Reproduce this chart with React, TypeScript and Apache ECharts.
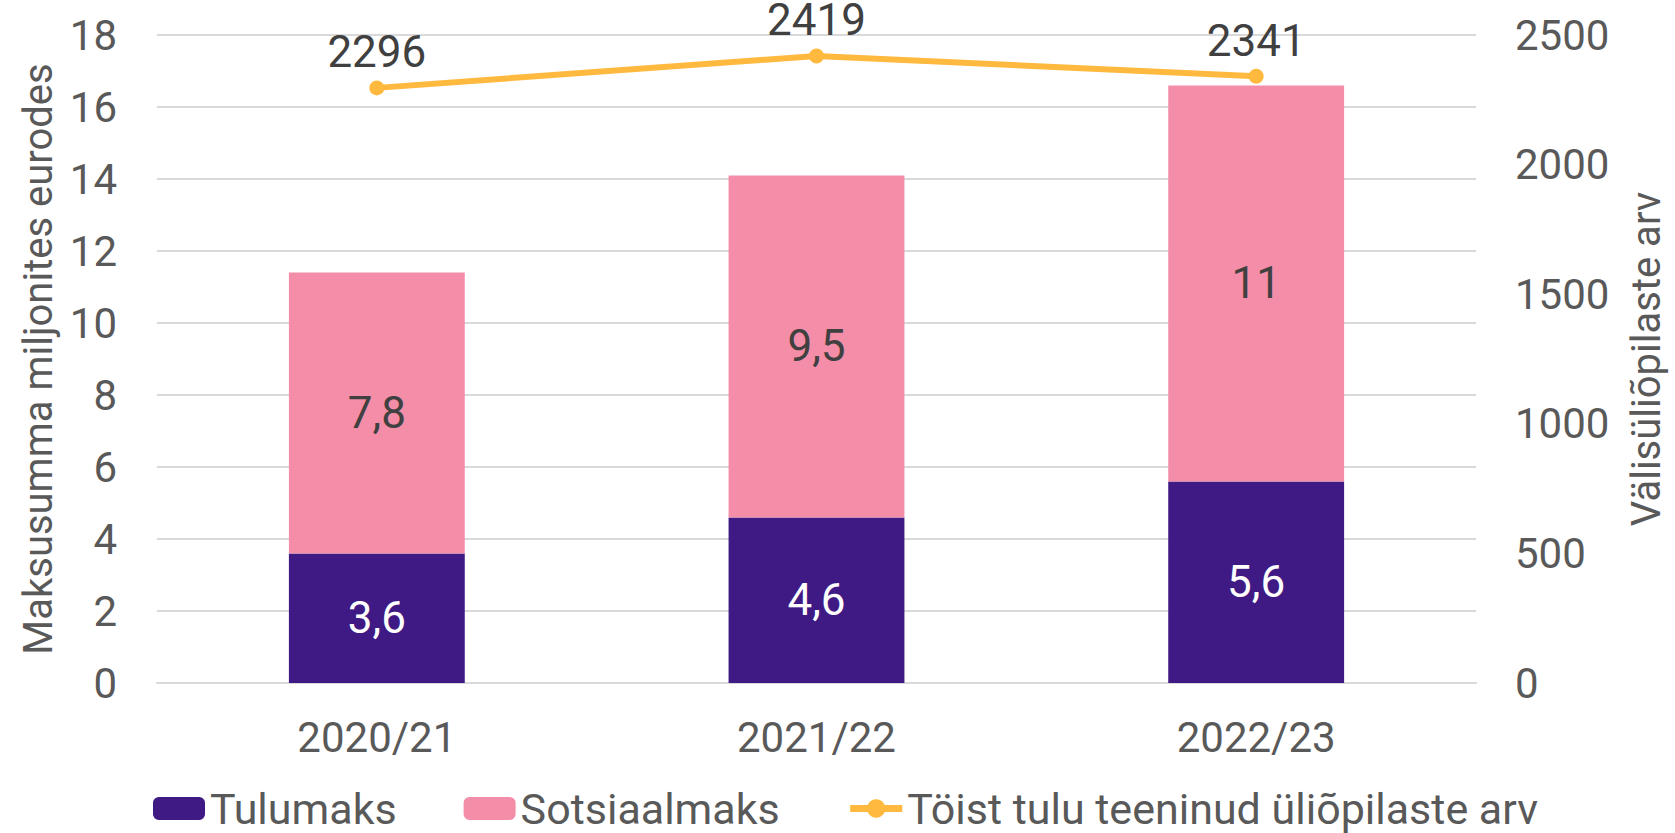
import React, { useEffect, useRef } from "react";
import * as echarts from "echarts";

const categories = ["2020/21", "2021/22", "2022/23"];
const tulumaks = [3.6, 4.6, 5.6];
const sotsiaalmaks = [7.8, 9.5, 11];
const students = [2296, 2419, 2341];
const leftTicks = { min: 0, max: 18, interval: 2 };
const rightTicks = { min: 0, max: 2500, interval: 500 };

const FONT = "Roboto";
const fmt = (v: number) => String(v).replace(".", ",");

export default function App() {
  const ref = useRef<HTMLDivElement>(null);
  useEffect(() => {
    document.body.style.margin = "0";
    const chart = echarts.init(ref.current!, null, { renderer: "svg" });
    chart.setOption({
      animation: false,
      textStyle: { fontFamily: FONT },
      grid: {
        left: 157,
        right: 199,
        top: 35,
        bottom: 150,
        containLabel: false,
        outerBoundsMode: "none",
      },
      legend: {
        left: 153,
        top: 787,
        padding: 0,
        itemWidth: 52,
        itemHeight: 23,
        itemGap: 67,
        textStyle: { fontFamily: FONT, fontSize: 43, color: "#595959" },
        data: [
          "Tulumaks",
          "Sotsiaalmaks",
          {
            name: "Töist tulu teeninud üliõpilaste arv",
            lineStyle: { width: 7, color: "#FFB93F" },
            itemStyle: { color: "#FFB93F" },
          },
        ],
      },
      xAxis: {
        type: "category",
        data: categories,
        axisLine: { lineStyle: { color: "#D9D9D9", width: 2 } },
        axisTick: { show: false },
        axisLabel: { fontFamily: FONT, fontSize: 42, color: "#595959", margin: 33 },
      },
      yAxis: [
        {
          type: "value",
          ...leftTicks,
          name: "Maksusumma miljonites eurodes",
          nameLocation: "middle",
          nameRotate: 90,
          nameGap: 99,
          nameTextStyle: { fontFamily: FONT, fontSize: 40, color: "#595959" },
          axisLabel: { fontFamily: FONT, fontSize: 42, color: "#595959", margin: 40 },
          splitLine: { lineStyle: { color: "#D9D9D9", width: 2 } },
          axisLine: { show: false },
          axisTick: { show: false },
        },
        {
          type: "value",
          ...rightTicks,
          position: "right",
          name: "Välisüliõpilaste arv",
          nameLocation: "middle",
          nameRotate: 90,
          nameGap: 150,
          nameTextStyle: { fontFamily: FONT, fontSize: 40, color: "#595959" },
          axisLabel: {
            fontFamily: FONT,
            fontSize: 42,
            color: "#595959",
            margin: 39,
            formatter: (v: number) => String(v),
          },
          splitLine: { show: false },
          axisLine: { show: false },
          axisTick: { show: false },
        },
      ],
      series: [
        {
          name: "Tulumaks",
          type: "bar",
          stack: "tax",
          barWidth: "40%",
          data: tulumaks,
          itemStyle: { color: "#3F1A84" },
          label: {
            show: true,
            position: "inside",
            formatter: (p: any) => fmt(p.value),
            fontFamily: FONT,
            fontSize: 44,
            color: "#FFFFFF",
          },
        },
        {
          name: "Sotsiaalmaks",
          type: "bar",
          stack: "tax",
          barWidth: "40%",
          data: sotsiaalmaks,
          itemStyle: { color: "#F48DA8" },
          label: {
            show: true,
            position: "inside",
            formatter: (p: any) => fmt(p.value),
            fontFamily: FONT,
            fontSize: 44,
            color: "#404040",
          },
        },
        {
          name: "Töist tulu teeninud üliõpilaste arv",
          type: "line",
          yAxisIndex: 1,
          data: students,
          symbol: "circle",
          symbolSize: 15,
          lineStyle: { color: "#FFB93F", width: 6 },
          itemStyle: { color: "#FFB93F" },
          label: {
            show: true,
            position: "top",
            distance: 6,
            fontFamily: FONT,
            fontSize: 44,
            color: "#404040",
          },
        },
      ],
    });
    return () => chart.dispose();
  }, []);
  return <div ref={ref} style={{ width: 1675, height: 833 }} />;
}
